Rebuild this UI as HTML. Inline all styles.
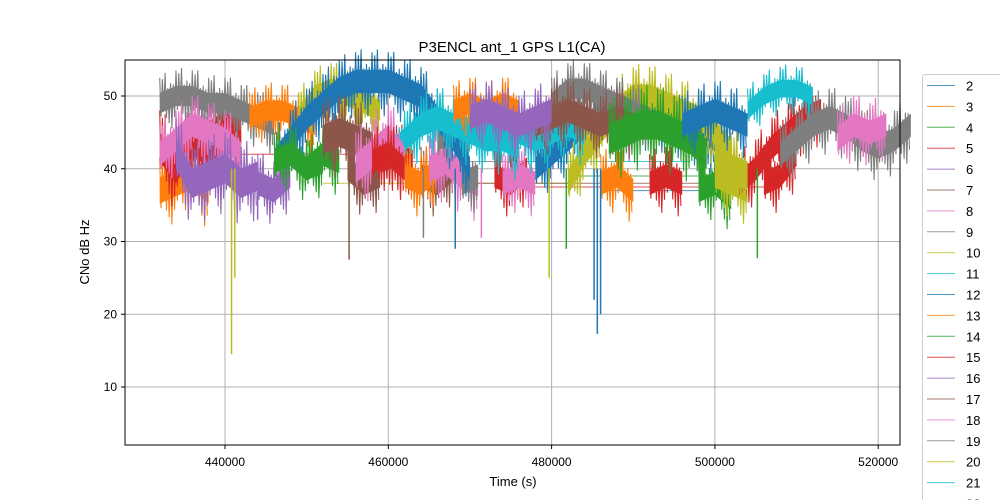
<!DOCTYPE html>
<html><head><meta charset="utf-8"><style>
body{margin:0;background:#fff}
svg{display:block;font-family:"Liberation Sans","DejaVu Sans",sans-serif}
</style></head><body>
<svg id="chart" width="1000" height="500" viewBox="0 0 1000 500">
<rect width="1000" height="500" fill="#fff"/>
<text x="512" y="52" font-size="15" text-anchor="middle">P3ENCL ant_1 GPS L1(CA)</text>
<g id="grid"></g>
<g id="marks"></g>
<rect x="125" y="60" width="775" height="385" fill="none" stroke="#000" stroke-width="1"/>
<g id="axes"></g>
<text x="513" y="486" font-size="13" text-anchor="middle">Time (s)</text>
<text x="89" y="252" font-size="13" text-anchor="middle" transform="rotate(-90 89 252)">CNo dB Hz</text>
<g id="legend"></g>
</svg>
<script>
const xTicks=[440000,460000,480000,500000,520000];
const yTicks=[10,20,30,40,50];
const legendLabels=["2","3","4","5","6","7","8","9","10","11","12","13","14","15","16","17","18","19","20","21","22"];
const palette=["#1f77b4","#ff7f0e","#2ca02c","#d62728","#9467bd","#8c564b","#e377c2","#7f7f7f","#bcbd22","#17becf"];
const bandColor=[1,4,5,3,1,6,5,3,7,1,3,1,3,2,4,3,7,6,8,2,
 7,3,6,4,1,8,0,9,1,5,2,6,3,0,8,9,7,5,4,2,3,8,9,0,7,6];
const bandStart=[432,444,464,459,462,465,455,473,469,486,492,434,506,498,484,438,466,474,500,450,
 432,432,432,434,443,449,446,460,468,452,446,456,458,478,482,470,480,478,470,487,503,500,504,496,508,515];
const bandStep=[2,2,2,2,2,2,2,2,2,2,2,2,2,2,2,2,2,2,2,2,
 2,2,2,2,2,2,2,2,2,2,2,2,2,2,2,2,2,2,2,2,2,2,2,2,2,2];
const bandValues=[
[37,38,39,37],
[38,37,39],
[39,38,40],
[41,42,41],
[39,38,40],
[40,41,39,38],
[40,38,39],
[39,38,40],
[38,39],
[38,39,37],
[38,39,38],
[41,43,42,41],
[38,39,42],
[37,38,36],
[46,47,46,45],
[45,46,45],
[44,45,44],
[38,39,38],
[39,38,37],
[40,42,41],
[49,50,50,49,49,48,47,46],
[43,40,44,42,45],
[42,44,46,45,44,42],
[42,38,39,40,38,39],
[47,48,48,47,46],
[47,50,51,50,49,48],
[41,44,47,49,51,52,52,52,51,50,47,44,40],
[42,44,46,47,46,45,44,44,43],
[48,49,48,49,48],
[44,45,44,43],
[41,42,40,41],
[40,42,44,41],
[41,42,40],
[40,42,44,46,47,48,48,47,47,46,45,44],
[38,42,45,48,50,50,49,48,47,45,42],
[46,47,46,45,44,45,46,45],
[49,51,51,50,49,48,47],
[46,47,48,47,46,47,46],
[47,48,47,46,47,48],
[44,45,46,46,45,44,42],
[38,40,43,45,47,48],
[41,40,39],
[48,50,51,51,50],
[46,47,48,47,46],
[42,44,46,47,46,44,43,44,46],
[44,46,45,46]];
const bandWidth=[4.5,4,4,4,4,4.5,4,4,4,4,4,4,4,4,3.5,4,4,4,4,4,
 3.5,5,4,5,3.5,3.5,4,4,3.5,5,4,5,4,4,4,4,3.5,4,4,5,4,5,3,4,4,4];
const dipTimes=[440.8,441.2,455.2,464.3,468.2,479.7,481.8,485.2,485.6,486.0,505.2,444.0,471.4];
const dipValues=[14.5,25,27.5,30.5,29,25,29,22,17.3,20,27.7,33,30.5];
const dipColor=[8,8,5,7,0,8,2,0,0,0,2,4,6];
const flatStart=[438,452,470,478,482,486,455,475];
const flatEnd=[462,482,500,506,505,500,478,497];
const flatValues=[42,38,38,37.5,39,37,41,41];
const flatColor=[3,8,5,3,2,0,7,9];

const tex=[1,0.55,0.9,0.35,1.1,0.7,0.45,0.95,0.6,1.2,0.5,0.8];
const NS='http://www.w3.org/2000/svg';
const X=t=>225+(t-440)*8.165;
const Y=v=>96+(50-v)*7.275;
function el(tag,attrs,parent){const e=document.createElementNS(NS,tag);for(const k in attrs)e.setAttribute(k,attrs[k]);parent.appendChild(e);return e;}
const grid=document.getElementById('grid'),axes=document.getElementById('axes'),marks=document.getElementById('marks'),legend=document.getElementById('legend');
xTicks.forEach(t=>{const x=X(t/1000);
 const g=el('line',{x1:x,x2:x,y1:60,y2:445,stroke:'#b0b0b0','stroke-width':1},grid);
 
 
 el('line',{x1:x,x2:x,y1:445,y2:449,stroke:'#000'},axes);
 const tx=el('text',{x:x,y:466,'font-size':12,'text-anchor':'middle'},axes);tx.textContent=t;
 
 
});
yTicks.forEach(v=>{const y=Y(v);
 const g=el('line',{x1:125,x2:900,y1:y,y2:y,stroke:'#b0b0b0','stroke-width':1},grid);
 
 
 el('line',{x1:121,x2:125,y1:y,y2:y,stroke:'#000'},axes);
 const tx=el('text',{x:117,y:y+4,'font-size':12,'text-anchor':'end'},axes);tx.textContent=v;
 
 
});
flatStart.forEach((s,i)=>{
 const l=el('line',{x1:X(s),x2:X(flatEnd[i]),y1:Y(flatValues[i]),y2:Y(flatValues[i]),stroke:palette[flatColor[i]],'stroke-width':1,opacity:0.8},marks);
 
 
});
let k=0;
bandValues.forEach((vals,i)=>{
 const c=palette[bandColor[i]],w=bandWidth[i];
 const up=[],dn=[],zz=[];
 vals.forEach((v,j)=>{const t=bandStart[i]+j*bandStep[i];up.push(X(t)+','+Y(v+w*0.4));dn.unshift(X(t)+','+Y(v-w*0.4));});
 const p=el('polygon',{points:up.concat(dn).join(' '),fill:c,stroke:'none'},marks);
 
 
 for(let j=0;j<vals.length-1;j++){
  const t0=bandStart[i]+j*bandStep[i],t1=t0+bandStep[i];
  const x0=X(t0),x1=X(t1),n=Math.max(2,Math.round((x1-x0)/1.4));
  for(let s=0;s<n;s++){const f=s/n,x=x0+(x1-x0)*f,v=vals[j]+(vals[j+1]-vals[j])*f;
   const a=w*tex[k%tex.length]*(s%2?-1:1);k++;
   zz.push(x.toFixed(1)+','+Y(v+a).toFixed(1));}
 }
 const z=el('polyline',{points:zz.join(' '),fill:'none',stroke:c,'stroke-width':1.1},marks);
 
 
});
dipTimes.forEach((t,i)=>{
 const l=el('line',{x1:X(t),x2:X(t),y1:Y(40),y2:Y(dipValues[i]),stroke:palette[dipColor[i]],'stroke-width':1.5},marks);
 
 
});
const lb=el('rect',{x:922.5,y:74.5,width:90,height:440,rx:3,fill:'#fff',stroke:'#ccc'},legend);


legendLabels.forEach((s,i)=>{const y=85.5+i*20.9;
 const g=el('g',{},legend);
 
 
 el('line',{x1:927,x2:955,y1:y,y2:y,stroke:palette[i%10],'stroke-width':1,opacity:0.8},g);
 const t=el('text',{x:966,y:y+5,'font-size':13},g);t.textContent=s;
});
</script>
</body></html>
